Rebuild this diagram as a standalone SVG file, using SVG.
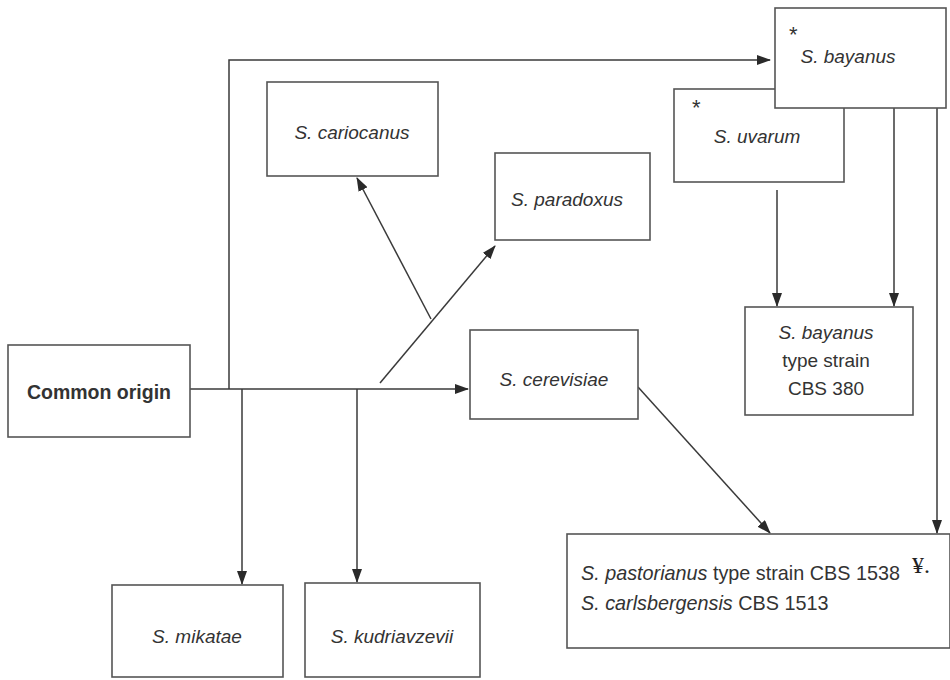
<svg xmlns="http://www.w3.org/2000/svg" width="950" height="680" viewBox="0 0 950 680">
<style>
.box{fill:#fff;stroke:#555;stroke-width:1.6}
.ln{fill:none;stroke:#3a3a3a;stroke-width:1.5}
.t{font-family:"Liberation Sans",Arial,sans-serif;font-size:19px;fill:#333}
.i{font-style:italic}
.b{font-weight:bold;font-size:19.5px}
.p{font-size:19.8px}
.ast{font-family:"Liberation Sans",Arial,sans-serif;font-size:22px;fill:#333}
.yen{font-family:"Liberation Serif","Times New Roman",serif;font-size:24px;fill:#222}
</style>
<defs>
<marker id="ah" markerWidth="14" markerHeight="10" refX="13" refY="5" orient="auto" markerUnits="userSpaceOnUse">
<path d="M0,0 L14,5 L0,10 Z" fill="#2a2a2a"/>
</marker>
</defs>
<rect width="950" height="680" fill="#fff"/>
<g id="connectors">
<path class="ln" d="M190,389 H242"/>
<path class="ln" d="M229,389 V60 H770" marker-end="url(#ah)"/>
<path class="ln" d="M242,389 H468" marker-end="url(#ah)"/>
<path class="ln" d="M242,389 V584" marker-end="url(#ah)"/>
<path class="ln" d="M357,389 V582" marker-end="url(#ah)"/>
<path class="ln" d="M380,383 L495,246" marker-end="url(#ah)"/>
<path class="ln" d="M431,319 L357,178" marker-end="url(#ah)"/>
<path class="ln" d="M638,387 L770,533" marker-end="url(#ah)"/>
<path class="ln" d="M777,190 V306" marker-end="url(#ah)"/>
<path class="ln" d="M894,108 V306" marker-end="url(#ah)"/>
<path class="ln" d="M937,108 V533" marker-end="url(#ah)"/>
</g>
<g id="common-origin">
<rect class="box" x="8" y="345" width="182" height="92"/>
<text class="t b" x="99" y="399" text-anchor="middle">Common origin</text>
</g>
<g id="cariocanus">
<rect class="box" x="267" y="82" width="171" height="94"/>
<text class="t i" x="352" y="139" text-anchor="middle">S. cariocanus</text>
</g>
<g id="paradoxus">
<rect class="box" x="495" y="153" width="155" height="87"/>
<text class="t i" x="567" y="206" text-anchor="middle">S. paradoxus</text>
</g>
<g id="cerevisiae">
<rect class="box" x="470" y="330" width="168" height="89"/>
<text class="t i" x="554" y="386" text-anchor="middle">S. cerevisiae</text>
</g>
<g id="uvarum">
<rect class="box" x="674" y="89" width="170" height="93"/>
<text class="ast" x="692" y="115">*</text>
<text class="t i" x="757" y="143" text-anchor="middle">S. uvarum</text>
</g>
<g id="bayanus">
<rect class="box" x="775" y="8" width="171" height="100"/>
<text class="ast" x="789" y="42">*</text>
<text class="t i" x="848" y="63" text-anchor="middle">S. bayanus</text>
</g>
<g id="type-strain">
<rect class="box" x="745" y="307" width="168" height="108"/>
<text class="t" x="826" y="339" text-anchor="middle"><tspan class="i">S. bayanus</tspan></text>
<text class="t" x="826" y="367" text-anchor="middle">type strain</text>
<text class="t" x="826" y="395" text-anchor="middle">CBS 380</text>
</g>
<g id="mikatae">
<rect class="box" x="112" y="585" width="171" height="92"/>
<text class="t i" x="197" y="643" text-anchor="middle">S. mikatae</text>
</g>
<g id="kudriavzevii">
<rect class="box" x="305" y="583" width="175" height="94"/>
<text class="t i" x="392" y="643" text-anchor="middle">S. kudriavzevii</text>
</g>
<g id="pastorianus">
<rect class="box" x="567" y="534" width="383" height="114"/>
<text class="t p" x="581" y="580"><tspan class="i">S. pastorianus</tspan> type strain CBS 1538</text>
<text class="yen" x="912" y="573">¥.</text>
<text class="t p" x="581" y="610"><tspan class="i">S. carlsbergensis</tspan> CBS 1513</text>
</g>
</svg>
